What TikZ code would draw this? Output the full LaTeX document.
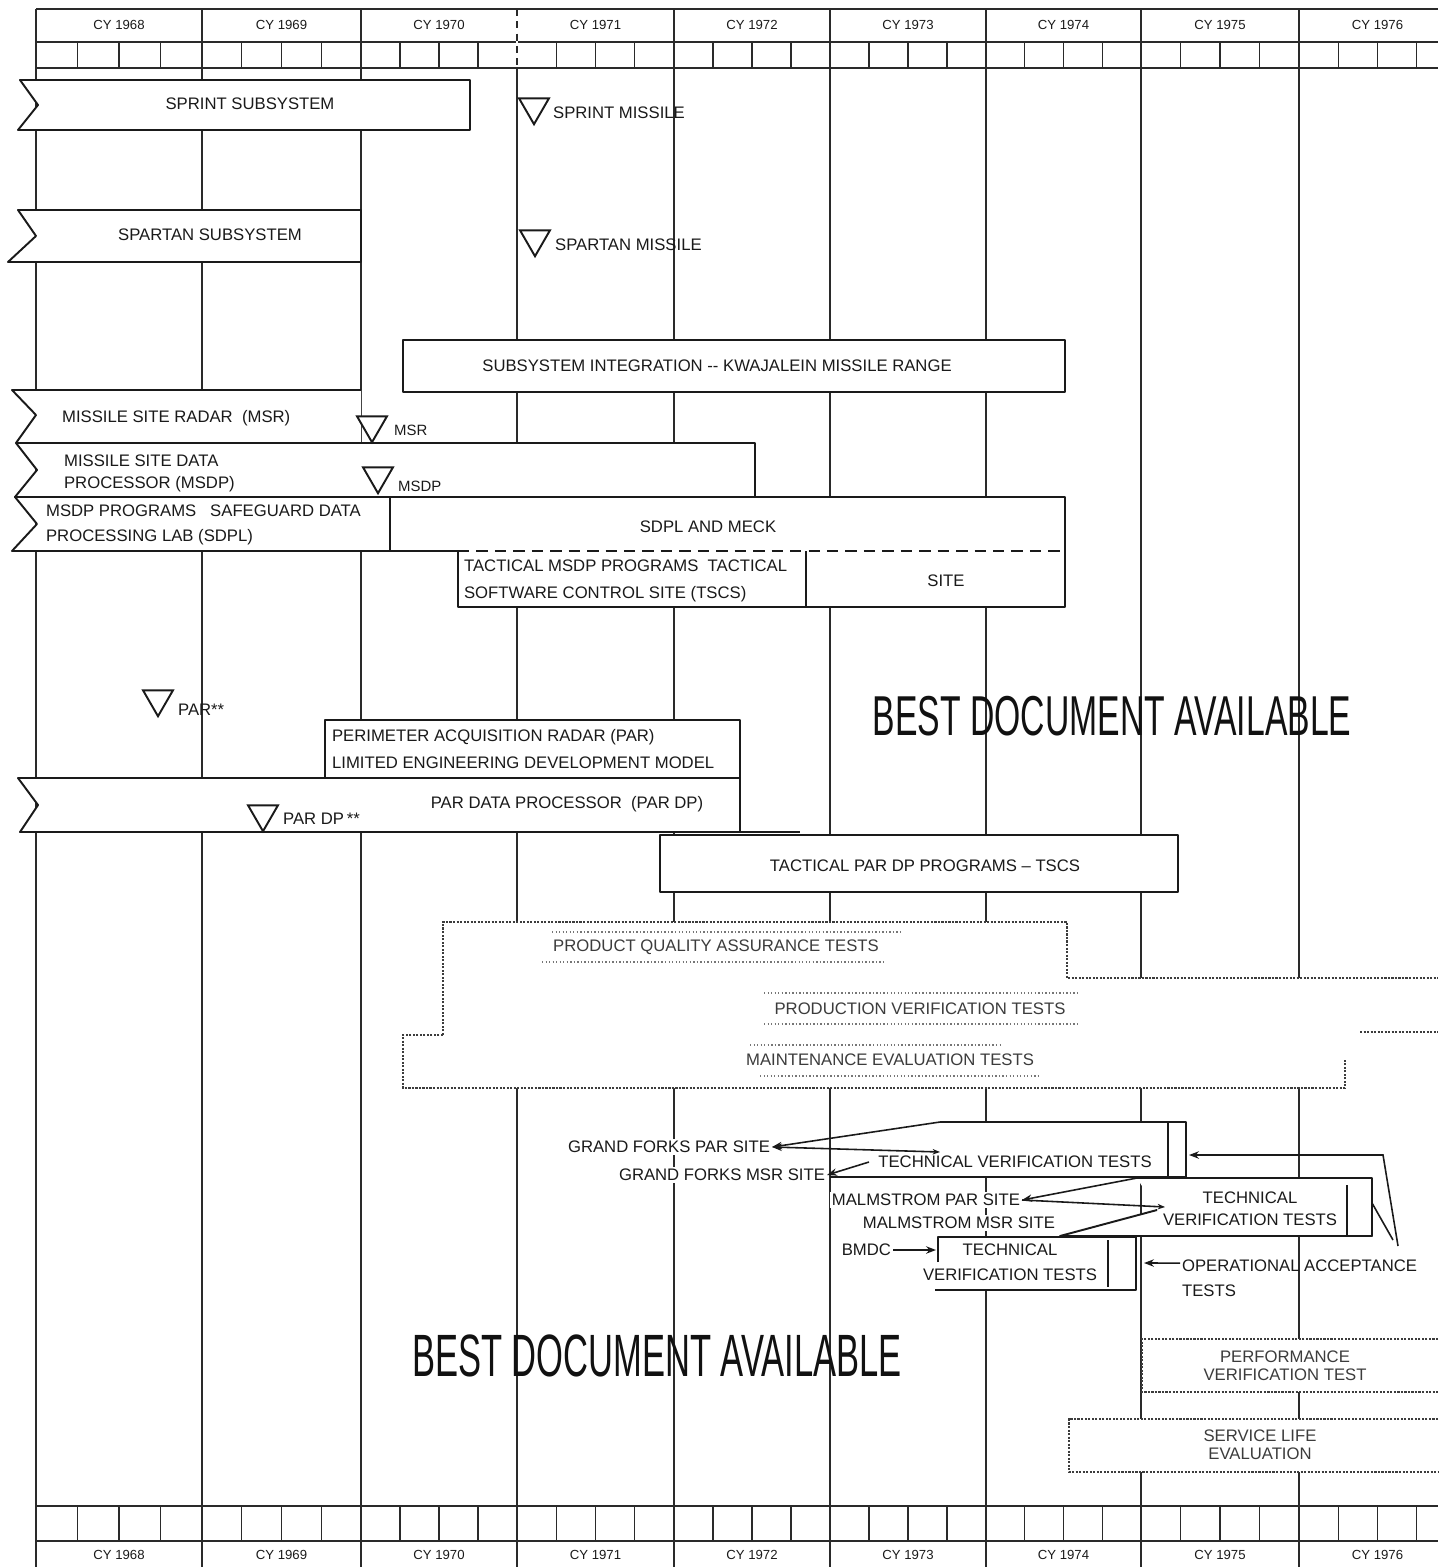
\documentclass[tikz,border=0pt]{standalone}
\usepackage{fontspec}
\setmainfont{Liberation Sans}
\usepackage{graphicx}
\usetikzlibrary{
  positioning,
  shapes.geometric,
  arrows.meta,
}
\definecolor{inkCol}{HTML}{1A1A1A}
\definecolor{gridCol}{HTML}{2A2A2A}
\definecolor{fadeCol}{HTML}{3C3C3C}
\definecolor{stampCol}{HTML}{111111}
\tikzset{
  yrline/.style={draw=gridCol, line width=0.8pt},
  qline/.style={draw=gridCol, line width=0.7pt},
  barline/.style={draw=inkCol, fill=white, line width=1.1pt, line join=round},
  edge/.style={draw=inkCol, line width=1.1pt, line join=round},
  testline/.style={draw=fadeCol, line width=1pt, dash pattern=on 1.2pt off 0.8pt},
  screen/.style={draw=fadeCol!70, line width=0.8pt, dash pattern=on 0.8pt off 1.2pt},
  lbl/.style={font=\fontsize{9.5}{14}\selectfont, text=inkCol, inner sep=1pt},
  freelbl/.style={lbl, fill=white},
  yrlbl/.style={font=\fontsize{7.5}{9}\selectfont, text=inkCol, inner sep=1pt},
  mstone/.style={
    regular polygon, regular polygon sides=3, shape border rotate=180,
    draw=inkCol, fill=white, line width=1.1pt, minimum size=0.69cm, inner sep=0pt,
  },
  arrow/.style={-{Stealth[scale=0.8]}, inkCol, line width=0.9pt},
  callout/.style={inkCol, line width=0.9pt},
  stamp/.style={text=stampCol, inner sep=0pt},
}

\begin{document}
\begin{tikzpicture}[x=0.02cm, y=-0.02cm]

  \useasboundingbox (0,0) rectangle (1438,1567);

  % Calendar frame
  \draw[yrline] (36,9) -- (1438,9);
  \draw[yrline] (36,42) -- (1438,42);
  \draw[yrline] (36,68) -- (1438,68);
  \draw[yrline] (36,1506) -- (1438,1506);
  \draw[yrline] (36,1541) -- (1438,1541);
  \foreach \a/\b/\yr in {36/202/1968, 202/361/1969, 361/517/1970, 517/674/1971,
                         674/830/1972, 830/986/1973, 986/1141/1974, 1141/1299/1975, 1299/1456/1976} {
    \draw[yrline] (\a,9) -- (\a,1567);
    \foreach \q in {1,2,3} {
      \draw[qline] ({\a+\q*(\b-\a)/4},42) -- ({\a+\q*(\b-\a)/4},68);
      \draw[qline] ({\a+\q*(\b-\a)/4},1506) -- ({\a+\q*(\b-\a)/4},1541);
    }
    \node[yrlbl] (top\yr) at ({(\a+\b)/2},25) {CY \yr};
    \node[yrlbl] (bot\yr) at ({(\a+\b)/2},1555) {CY \yr};
  }
  % 1971 divider is broken in the header
  \draw[white, line width=1.4pt] (517,10) -- (517,67);
  \draw[yrline, dash pattern=on 4pt off 3pt] (517,9) -- (517,68);

  % Missile subsystems
  \draw[barline] (20,80) -- (470,80) -- (470,130) -- (18,130) -- (38,105) -- cycle;
  \node[lbl] (sprint) at (250,104) {SPRINT SUBSYSTEM};
  \draw[barline] (18,210) -- (361,210) -- (361,262) -- (8,262) -- (36,236) -- cycle;
  \node[lbl] (spartan) at (210,235) {SPARTAN SUBSYSTEM};

  \node[mstone] (msSprint) at (534,107) {};
  \node[lbl, anchor=west] (lbSprint) at (551,113) {SPRINT MISSILE};
  \node[mstone] (msSpartan) at (535,239) {};
  \node[lbl, anchor=west] (lbSpartan) at (553,245) {SPARTAN MISSILE};

  \draw[barline] (403,340) rectangle (1065,392);
  \node[lbl] (subint) at (717,366) {SUBSYSTEM INTEGRATION -{}- KWAJALEIN MISSILE RANGE};

  % MSR / MSDP / SDPL
  \fill[white] (12,390) -- (361,390) -- (361,443) -- (16,443) -- (36,415) -- cycle;
  \draw[edge] (361,390) -- (12,390) -- (36,415) -- (16,443);
  \node[lbl, anchor=west] (msr) at (60,418) {MISSILE SITE RADAR\ \ (MSR)};

  \draw[barline] (16,443) -- (755,443) -- (755,497) -- (15,497) -- (37,470) -- cycle;
  \node[lbl, anchor=west, align=left, font=\fontsize{9.5}{12.5}\selectfont] (msdp) at (62,473) {MISSILE SITE DATA\\PROCESSOR (MSDP)};

  \draw[barline] (15,497) -- (1065,497) -- (1065,607) -- (458,607) -- (458,551) -- (12,551) -- (37,524) -- cycle;
  \draw[edge] (390,497) -- (390,551);
  \draw[edge, dash pattern=on 6.5pt off 4pt] (458,551) -- (1065,551);
  \draw[edge] (806,551) -- (806,607);
  \node[lbl, anchor=west, align=left] (sdpl) at (44,525) {MSDP PROGRAMS\ \ \ SAFEGUARD DATA\\PROCESSING LAB (SDPL)};
  \node[lbl] (meck) at (708,527) {SDPL AND MECK};
  \node[lbl, anchor=west, align=left, font=\fontsize{9.5}{15.4}\selectfont] (tscs) at (462,581) {TACTICAL MSDP PROGRAMS\ \ TACTICAL\\SOFTWARE CONTROL SITE (TSCS)};
  \node[lbl] (site) at (946,581) {SITE};

  \node[mstone] (msMSR) at (372,425) {};
  \node[lbl, anchor=west, font=\fontsize{8.5}{10}\selectfont] (lbMSR) at (392,430) {MSR};
  \node[mstone] (msMSDP) at (378,476) {};
  \node[lbl, anchor=west, font=\fontsize{8.5}{10}\selectfont] (lbMSDP) at (396,486) {MSDP};

  % PAR
  \node[mstone] (msPAR) at (158,699) {};
  \node[lbl, anchor=west] (lbPAR) at (176,710) {PAR**};
  \draw[barline] (325,720) rectangle (740,778);
  \node[lbl, anchor=west, align=left, font=\fontsize{9.5}{15.4}\selectfont] (parledm) at (330,749) {PERIMETER ACQUISITION RADAR (PAR)\\LIMITED ENGINEERING DEVELOPMENT MODEL};
  \draw[barline] (18,778) -- (740,778) -- (740,832) -- (20,832) -- (38,805) -- cycle;
  \draw[edge] (740,832) -- (800,832);
  \node[lbl] (pardp) at (567,804) {PAR DATA PROCESSOR\ \ (PAR DP)};
  \node[mstone] (msPARDP) at (263,814) {};
  \node[lbl, anchor=west] (lbPARDP) at (281,819) {PAR DP\,**};

  \draw[barline] (660,835) rectangle (1178,892);
  \node[lbl] (tacpar) at (925,866) {TACTICAL PAR DP PROGRAMS -- TSCS};

  % Test programmes
  \fill[white] (443,922) -- (1067,922) -- (1067,978) -- (1438,978) -- (1438,1032) -- (1345,1032)
    -- (1345,1088) -- (403,1088) -- (403,1035) -- (443,1035) -- cycle;
  \draw[testline] (443,1035) -- (443,922) -- (1067,922) -- (1067,978) -- (1438,978);
  \draw[testline] (443,1035) -- (403,1035) -- (403,1088) -- (1345,1088) -- (1345,1060);
  \draw[testline] (1360,1032) -- (1438,1032);
  \draw[screen] (552,932) -- (903,932);
  \draw[screen] (542,962) -- (883,962);
  \draw[screen] (764,993) -- (1079,993);
  \draw[screen] (764,1024) -- (1080,1024);
  \draw[screen] (750,1045) -- (1000,1045);
  \draw[screen] (760,1076) -- (1040,1076);
  \node[lbl, text=fadeCol] (pqat) at (716,947) {PRODUCT QUALITY ASSURANCE TESTS};
  \node[lbl, text=fadeCol] (pvt) at (920,1009) {PRODUCTION VERIFICATION TESTS};
  \node[lbl, text=fadeCol] (met) at (890,1060) {MAINTENANCE EVALUATION TESTS};

  % Grand Forks
  \fill[white] (940,1122) -- (1186,1122) -- (1186,1177) -- (830,1177) -- (869,1162) -- (940,1152) -- cycle;
  \node[freelbl, anchor=east] (gfpar) at (772,1147) {GRAND FORKS PAR SITE};
  \node[freelbl, anchor=east] (gfmsr) at (827,1175) {GRAND FORKS MSR SITE};
  \coordinate (gfTL) at (940,1122);
  \coordinate (gfBL) at (940,1152);
  \coordinate (gfTV) at (869,1162);
  \coordinate (gfR) at (1189,1155);
  \draw[edge] (gfTL) -- (1186,1122) -- (1186,1177) -- (830,1177);
  \draw[edge] (1168,1122) -- (1168,1177);
  \draw[arrow] (gfTL) -- (gfpar.east);
  \draw[callout, {Stealth[scale=0.8]}-{Stealth[scale=0.6]}] (gfpar.east) -- (gfBL);
  \draw[arrow] (gfTV) -- (gfmsr.east);
  \node[lbl] (gftvt) at (1015,1162) {TECHNICAL VERIFICATION TESTS};

  % Malmstrom
  \fill[white] (1137,1178) -- (1372,1178) -- (1372,1236) -- (1060,1236) -- (1157,1210) -- cycle;
  \node[freelbl, anchor=east] (mapar) at (1022,1200) {MALMSTROM PAR SITE};
  \node[freelbl, anchor=east] (mamsr) at (1057,1223) {MALMSTROM MSR SITE};
  \coordinate (maTL) at (1137,1178);
  \coordinate (maPA) at (1165,1207);
  \coordinate (maMS) at (1157,1210);
  \coordinate (maBL) at (1060,1236);
  \draw[edge] (maTL) -- (1372,1178) -- (1372,1236) -- (maBL) -- (maMS);
  \draw[edge] (1347,1185) -- (1347,1236);
  \draw[arrow] (maTL) -- (mapar.east);
  \draw[callout, -{Stealth[scale=0.6]}] (mapar.east) -- (maPA);
  \node[lbl, align=center, font=\fontsize{9.5}{12.5}\selectfont] (matvt) at (1250,1209) {TECHNICAL\\VERIFICATION TESTS};

  % BMDC
  \fill[white] (938,1237) rectangle (1136,1290);
  \draw[edge] (938,1262) -- (938,1237) -- (1136,1237) -- (1136,1290) -- (935,1290);
  \draw[edge] (1108,1240) -- (1108,1287);
  \node[freelbl, anchor=east] (bmdc) at (893,1250) {BMDC};
  \coordinate (bmIn) at (936,1250);
  \draw[arrow] (bmdc.east) -- (bmIn);
  \node[lbl, align=center] (bmtvt) at (1010,1262) {TECHNICAL\\VERIFICATION TESTS};

  % Operational acceptance
  \node[lbl, anchor=west, align=left] (oat) at (1180,1278) {OPERATIONAL ACCEPTANCE\\TESTS};
  \coordinate (oatTip) at (1144,1263);
  \coordinate (oatA) at (1398,1246);
  \coordinate (oatB) at (1393,1240);
  \coordinate (maR) at (1372,1203);
  \draw[arrow] ([yshift=8.5pt]oat.west) -- (oatTip);
  \draw[arrow] (oatA) -- (1383,1155) -- (gfR);
  \draw[callout] (oatB) -- (maR);

  % Performance and service life
  \fill[white] (1142,1339) rectangle (1438,1392);
  \draw[testline] (1438,1339) -- (1142,1339) -- (1142,1392) -- (1438,1392);
  \node[lbl, text=fadeCol, align=center, font=\fontsize{9.5}{10.5}\selectfont] (pvtest) at (1285,1366) {PERFORMANCE\\VERIFICATION TEST};
  \fill[white] (1069,1419) rectangle (1438,1472);
  \draw[testline] (1438,1419) -- (1069,1419) -- (1069,1472) -- (1438,1472);
  \node[lbl, text=fadeCol, align=center, font=\fontsize{9.5}{10.5}\selectfont] (sle) at (1260,1445) {SERVICE LIFE\\EVALUATION};

  % Stamps
  \node[stamp, font=\fontsize{32}{34}\selectfont] (bestA) at (1112,716) {\scalebox{0.60}[1]{BEST DOCUMENT AVAILABLE}};
  \node[stamp, font=\fontsize{34}{36}\selectfont] (bestB) at (657,1356) {\scalebox{0.578}[1]{BEST DOCUMENT AVAILABLE}};

\end{tikzpicture}
\end{document}
